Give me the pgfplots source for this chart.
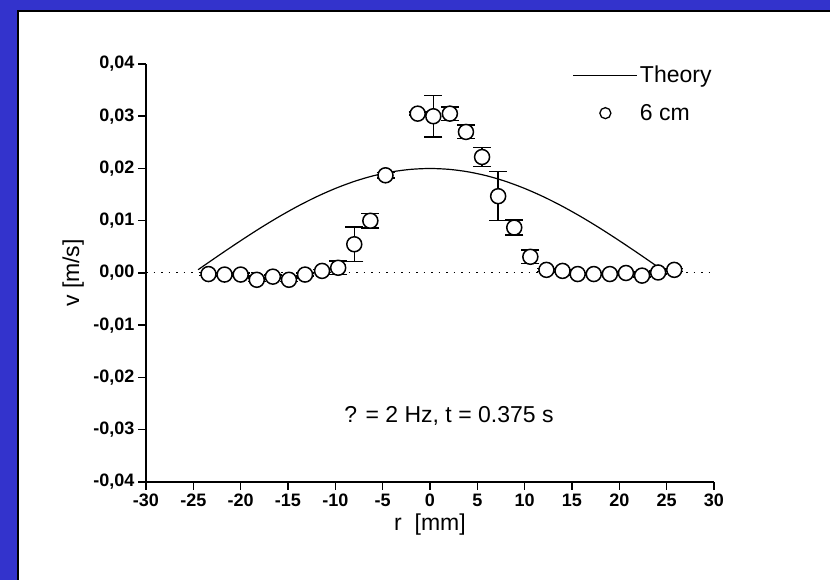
\documentclass[border=0pt]{standalone}
\usepackage{pgfplots}
\pgfplotsset{compat=1.18}
\usepackage{pgfplotstable}
\usepackage{fontspec}
\setmainfont{Liberation Sans}
\definecolor{bgblue}{RGB}{51,51,204}

\pgfplotstableread{
r v e
-23.4 -0.0002 0.0003
-21.7 -0.0003 0.0003
-20.0 -0.0003 0.0003
-18.3 -0.0013 0.0003
-16.6 -0.0007 0.0003
-14.9 -0.0013 0.0003
-13.2 -0.0003 0.0003
-11.4 0.0004 0.0003
-9.7 0.0010 0.0013
-8.0 0.0055 0.0033
-6.3 0.0100 0.0014
-4.7 0.0187 0.0005
-1.3 0.0305 0.0003
0.35 0.0300 0.0040
2.1 0.0305 0.0013
3.8 0.0270 0.0013
5.5 0.0222 0.0018
7.2 0.0147 0.0047
8.9 0.0087 0.0014
10.6 0.0031 0.0013
12.3 0.0006 0.0003
14.0 0.0004 0.0003
15.6 -0.0002 0.0003
17.3 -0.0002 0.0003
19.0 -0.0002 0.0003
20.7 0.0000 0.0003
22.4 -0.0005 0.0003
24.1 0.0001 0.0003
25.8 0.0006 0.0003
}\measured

\pgfplotstableread{
r v
-24.5 0.00063
-22 0.00375
-20 0.00618
-18 0.00852
-16 0.01072
-14 0.01275
-12 0.01458
-10 0.01618
-8 0.01753
-6 0.01860
-4 0.01937
-2 0.01984
0 0.02000
2 0.01984
4 0.01937
6 0.01860
8 0.01753
10 0.01618
12 0.01458
14 0.01275
16 0.01072
18 0.00852
20 0.00618
22 0.00375
24.5 0.00063
}\theory

\begin{document}
\begin{tikzpicture}[x=1pt,y=1pt]
\useasboundingbox (0,0) rectangle (830,580);
\fill[bgblue] (0,0) rectangle (830,580);
\fill[white] (18,0) rectangle (830,569);
\draw[black, line width=1.5pt] (18,0) -- (18,569) -- (830,569);
\begin{axis}[
  at={(146pt,98pt)}, anchor=south west,
  scale only axis, width=568pt, height=418pt,
  xmin=-30, xmax=30, ymin=-0.04, ymax=0.04,
  axis x line*=bottom, axis y line*=left,
  axis line style={-, line width=1.5pt},
  xtick={-30,-25,-20,-15,-10,-5,0,5,10,15,20,25,30},
  xticklabels={-30,-25,-20,-15,-10,-5,0,5,10,15,20,25,30},
  ytick={-0.04,-0.03,-0.02,-0.01,0,0.01,0.02,0.03,0.04},
  yticklabels={-0{,}04,-0{,}03,-0{,}02,-0{,}01,0{,}00,0{,}01,0{,}02,0{,}03,0{,}04},
  tick align=outside, major tick length=8pt,
  tick style={line width=1.5pt, black},
  scaled y ticks=false,
  xticklabel style={text height=13pt, text depth=0pt},
  ticklabel style={font=\fontsize{18}{20}\selectfont\bfseries},
  xlabel={r\ \ [mm]}, ylabel={v [m/s]},
  xlabel style={at={(axis description cs:0.5,-0.103)}, anchor=center},
  ylabel style={at={(axis description cs:-0.128,0.5)}, anchor=center},
  label style={font=\fontsize{23}{26}\selectfont},
  legend style={at={(0.751,1.0)}, anchor=north west, draw=none, fill=none,
    font=\fontsize{23}{26}\selectfont, row sep=16pt, inner sep=0pt},
  legend cell align=left,
]
\addplot[black, line width=1pt, dash pattern=on 1.5pt off 6pt, forget plot] coordinates {(-30,0) (30,0)};
\addplot[black, line width=1.2pt, smooth,
  legend image code/.code={\draw[black,line width=1.2pt] (0pt,0pt) -- (64pt,0pt);}]
  table[x=r, y=v] {\theory};
\addlegendentry{Theory}
\addplot[draw=none, no marks, forget plot,
  error bars/.cd, y dir=both, y explicit, error mark=|,
  error bar style={line width=1.5pt, black},
  error mark options={mark size=9pt, line width=1.5pt, black},
  ]
  table[x=r, y=v, y error=e] {\measured};
\addplot[only marks, mark=*, mark size=7.5pt, mark options={fill=white, draw=black, line width=1.5pt},
  legend image code/.code={\draw[black,line width=1.3pt, fill=white] (32pt,0pt) circle (5.5pt);}]
  table[x=r, y=v] {\measured};
\addlegendentry{6 cm}
\node[font=\fontsize{23}{26}\selectfont] at (axis cs:2,-0.0274) {? = 2 Hz, t = 0.375 s};
\end{axis}
\end{tikzpicture}
\end{document}
